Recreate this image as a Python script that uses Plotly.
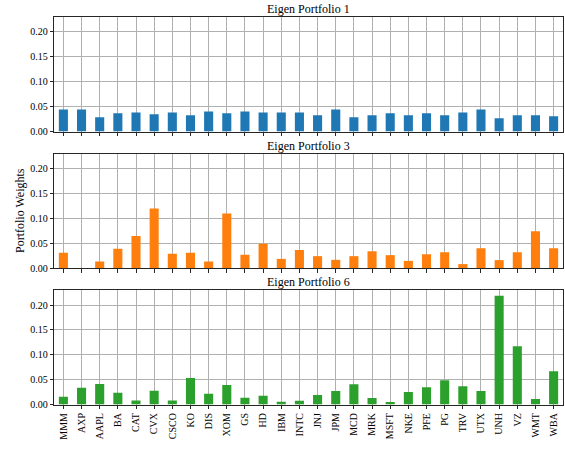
import plotly.graph_objects as go

# Dow Jones constituents
tickers = ["MMM", "AXP", "AAPL", "BA", "CAT", "CVX", "CSCO", "KO", "DIS", "XOM",
           "GS", "HD", "IBM", "INTC", "JNJ", "JPM", "MCD", "MRK", "MSFT", "NKE",
           "PFE", "PG", "TRV", "UTX", "UNH", "VZ", "WMT", "WBA"]

# Eigen portfolio weights
portfolio_1 = [0.0444, 0.0444, 0.0285, 0.0364, 0.0384, 0.0344, 0.0384, 0.0325, 0.0404, 0.0364,
               0.0404, 0.0384, 0.0384, 0.0384, 0.0325, 0.0444, 0.0285, 0.0325, 0.0364, 0.0325,
               0.0364, 0.0325, 0.0384, 0.0444, 0.0265, 0.0325, 0.0325, 0.0305]
portfolio_3 = [0.0309, 0.0, 0.0132, 0.0388, 0.0645, 0.1197, 0.0289, 0.0309, 0.0132, 0.1099,
               0.0270, 0.0487, 0.0185, 0.0364, 0.0240, 0.0165, 0.0240, 0.0340, 0.0260, 0.0145,
               0.0280, 0.0320, 0.0080, 0.0400, 0.0160, 0.0320, 0.0740, 0.0400]
portfolio_6 = [0.0158, 0.0336, 0.0414, 0.0237, 0.0079, 0.0276, 0.0079, 0.0533, 0.0217, 0.0395,
               0.0138, 0.0178, 0.0056, 0.0075, 0.0191, 0.0270, 0.0408, 0.0132, 0.0053, 0.0250,
               0.0349, 0.0487, 0.0368, 0.0270, 0.2186, 0.1170, 0.0113, 0.0671]

titles = ["Eigen Portfolio 1", "Eigen Portfolio 3", "Eigen Portfolio 6"]
series = [portfolio_1, portfolio_3, portfolio_6]
colors = ["#1f77b4", "#ff7f0e", "#2ca02c"]
y_ticks = [0.0, 0.05, 0.10, 0.15, 0.20]

W, H = 565, 450
x_left, x_right = 54.3, 562.7
panels_px = [(17.3, 133.3), (156.0, 271.7), (294.3, 410.0)]
title_px = [9.0, 147.5, 286.0]

ymax = max(max(s) for s in series) * 1.05
font = "Liberation Serif"
spine = "#262626"
grid = "#b0b0b0"

fig = go.Figure()
layout = dict(
    width=W, height=H,
    margin=dict(l=0, r=0, t=0, b=0),
    paper_bgcolor="white", plot_bgcolor="white",
    font=dict(family=font, size=10, color="black"),
    showlegend=False,
    bargap=0.5,
    annotations=[],
)

for i, (vals, col, ttl) in enumerate(zip(series, colors, titles)):
    n = "" if i == 0 else str(i + 1)
    fig.add_trace(go.Bar(x=tickers, y=vals, marker=dict(color=col, line=dict(width=0)),
                         width=0.5, xaxis="x" + n, yaxis="y" + n))
    top, bot = panels_px[i]
    layout["xaxis" + n] = dict(
        domain=[x_left / W, x_right / W], anchor="y" + n,
        type="category", range=[-0.5, len(tickers) - 0.5],
        showgrid=True, gridcolor=grid, gridwidth=1,
        showline=True, linecolor=spine, linewidth=1, mirror=True,
        ticks="outside", ticklen=3.5, tickcolor=spine, tickwidth=1,
        showticklabels=(i == 2), tickangle=-90,
        tickfont=dict(size=10, family=font, color="black"),
        layer="above traces",
    )
    layout["yaxis" + n] = dict(
        domain=[1 - bot / H, 1 - top / H], anchor="x" + n,
        range=[0, ymax], tickvals=y_ticks, tickformat=".2f",
        showgrid=True, gridcolor=grid, gridwidth=1, zeroline=False,
        showline=True, linecolor=spine, linewidth=1, mirror=True,
        ticks="outside", ticklen=3.5, tickcolor=spine, tickwidth=1,
        tickfont=dict(size=10, family=font, color="black"),
        layer="above traces",
    )
    layout["annotations"].append(dict(
        text=ttl, xref="paper", yref="paper",
        x=(x_left + x_right) / 2 / W, y=1 - title_px[i] / H,
        xanchor="center", yanchor="middle", showarrow=False,
        font=dict(size=12, family=font, color="black"),
    ))

layout["annotations"].append(dict(
    text="Portfolio Weights", xref="paper", yref="paper",
    x=20 / W, y=1 - ((panels_px[1][0] + panels_px[1][1]) / 2) / H,
    xanchor="center", yanchor="middle", textangle=-90, showarrow=False,
    font=dict(size=12, family=font, color="black"),
))

fig.update_layout(**layout)
fig.write_html("out.html")
